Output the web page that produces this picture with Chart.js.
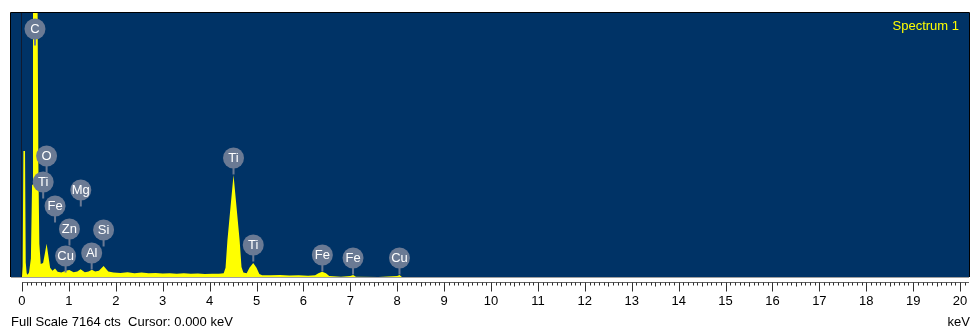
<!DOCTYPE html>
<html>
<head>
<meta charset="utf-8">
<title>Spectrum 1</title>
<script src="https://cdn.jsdelivr.net/npm/chart.js@4.4.1/dist/chart.umd.min.js"></script>
<style>
  html, body { margin: 0; padding: 0; background: #ffffff; }
  #wrap { width: 971px; height: 331px; position: relative; }
</style>
</head>
<body>
<div id="wrap"><canvas id="eds" width="971" height="331"></canvas></div>
<script>
// EDS spectrum: energy (keV) and counts per channel
const energyKeV = [
  0.00, 0.015, 0.03, 0.065, 0.08, 0.10, 0.12, 0.15, 0.19, 0.215, 0.235, 0.33, 0.35, 0.37,
  0.40, 0.45, 0.49, 0.525, 0.56, 0.60, 0.65, 0.705, 0.76, 0.84, 0.93, 1.01, 1.10,
  1.18, 1.25, 1.34, 1.42, 1.49, 1.56, 1.64, 1.74, 1.84, 1.95, 2.10, 2.25, 2.40,
  2.55, 2.70, 2.85, 3.00, 3.15, 3.30, 3.45, 3.60, 3.75, 3.90, 4.05, 4.20, 4.30,
  4.34, 4.38, 4.446, 4.51, 4.574, 4.64, 4.68, 4.72, 4.79, 4.85, 4.93, 5.00, 5.06,
  5.12, 5.30, 5.50, 5.70, 5.90, 6.10, 6.25, 6.32, 6.40, 6.48, 6.55, 6.80, 7.00, 7.06,
  7.12, 7.60, 8.00, 8.05, 8.10, 9.00, 12.00, 20.00
];
const counts = [
  0, 300, 3420, 3420, 400, 100, 60, 120, 500, 2500, 8000, 8000, 3000, 900,
  350, 380, 650, 900, 600, 250, 170, 230, 140, 120, 170, 190, 130,
  150, 210, 130, 150, 200, 150, 170, 300, 150, 120, 110, 130, 105,
  120, 100, 110, 95, 105, 90, 100, 85, 95, 80, 90, 85, 100,
  250, 1000, 1900, 2770, 1900, 1000, 270, 120, 100, 250, 380, 250, 80,
  50, 45, 55, 40, 50, 35, 50, 100, 145, 100, 30, 10, 30, 55,
  10, 0, 25, 55, 0, 0, 0, 0
];

// Element line markers: symbol, line energy (keV), counts level of the marker
const peakElements = ['C', 'O', 'Ti', 'Fe', 'Mg', 'Zn', 'Si', 'Cu', 'Al', 'Ti', 'Ti', 'Fe', 'Fe', 'Cu'];
const peakEnergies = [0.277, 0.525, 0.452, 0.705, 1.254, 1.012, 1.740, 0.930, 1.486, 4.510, 4.931, 6.404, 7.058, 8.048];
const markerCounts = [6730, 3284, 2578, 1927, 2361, 1303, 1276, 570, 651, 3230, 868, 597, 516, 516];

// Axis
const xTickValues = [0, 1, 2, 3, 4, 5, 6, 7, 8, 9, 10, 11, 12, 13, 14, 15, 16, 17, 18, 19, 20];
const fullScaleCounts = 7164;
const cursorKeV = 0.000;
const spectrumName = 'Spectrum 1';

const NAVY = '#003366';
const YELLOW = '#ffff00';
const BADGE = '#6a7a94';
const FONT = '"Liberation Sans", Arial, sans-serif';

const points = energyKeV.map((e, i) => ({ x: e, y: counts[i] }));

const edsPlugin = {
  id: 'edsDecor',
  beforeDraw(chart) {
    const { ctx, chartArea: a } = chart;
    ctx.save();
    ctx.fillStyle = '#ffffff';
    ctx.fillRect(0, 0, chart.width, chart.height);
    ctx.fillStyle = NAVY;
    ctx.fillRect(a.left, a.top, a.right - a.left, a.bottom - a.top);
    ctx.restore();
  },
  beforeDatasetsDraw(chart) {
    const { ctx, chartArea: a, scales } = chart;
    const cx = Math.round(scales.x.getPixelForValue(cursorKeV)) - 0.5;
    ctx.save();
    ctx.strokeStyle = '#101a30';
    ctx.lineWidth = 1;
    ctx.beginPath();
    ctx.moveTo(cx, a.top);
    ctx.lineTo(cx, a.bottom);
    ctx.stroke();
    ctx.restore();
  },
  afterDatasetsDraw(chart) {
    const { ctx, chartArea: a, scales } = chart;
    const xs = scales.x, ys = scales.y;
    ctx.save();

    // frame
    ctx.strokeStyle = '#000000';
    ctx.lineWidth = 1;
    ctx.beginPath();
    ctx.moveTo(a.left - 0.5, a.bottom);
    ctx.lineTo(a.left - 0.5, a.top - 0.5);
    ctx.lineTo(a.right + 0.5, a.top - 0.5);
    ctx.lineTo(a.right + 0.5, a.bottom);
    ctx.stroke();
    ctx.strokeStyle = '#a0a0a0';
    ctx.beginPath();
    ctx.moveTo(a.left, a.bottom + 0.5);
    ctx.lineTo(a.right, a.bottom + 0.5);
    ctx.stroke();

    // element markers
    const R = 10.5;
    ctx.font = '13px ' + FONT;
    ctx.textAlign = 'center';
    ctx.textBaseline = 'middle';
    peakElements.forEach((el, i) => {
      const px = xs.getPixelForValue(peakEnergies[i]);
      const py = ys.getPixelForValue(markerCounts[i]);
      ctx.strokeStyle = BADGE;
      ctx.lineWidth = 2;
      ctx.beginPath();
      ctx.moveTo(px, py);
      ctx.lineTo(px, py + R + 6);
      ctx.stroke();
      ctx.fillStyle = BADGE;
      ctx.beginPath();
      ctx.arc(px, py, R, 0, Math.PI * 2);
      ctx.fill();
      ctx.fillStyle = '#ffffff';
      ctx.fillText(el, px, py + 0.5);
    });

    // spectrum name
    ctx.fillStyle = YELLOW;
    ctx.font = '13px ' + FONT;
    ctx.textAlign = 'right';
    ctx.textBaseline = 'middle';
    ctx.fillText(spectrumName, a.right - 10, a.top + 13);

    // energy ruler
    const rulerY = a.bottom + 5.5;
    ctx.strokeStyle = '#606060';
    ctx.lineWidth = 1;
    ctx.beginPath();
    ctx.moveTo(xs.getPixelForValue(0), rulerY);
    ctx.lineTo(a.right, rulerY);
    ctx.stroke();
    ctx.strokeStyle = '#303030';
    ctx.beginPath();
    for (let k = 0; k * 0.1 <= xs.max + 1e-9; k++) {
      const x = Math.round(xs.getPixelForValue(k * 0.1)) + 0.5;
      const len = k % 10 === 0 ? 9 : (k % 5 === 0 ? 4 : 3);
      ctx.moveTo(x, rulerY);
      ctx.lineTo(x, rulerY + len);
    }
    ctx.stroke();

    // status line
    ctx.fillStyle = '#000000';
    ctx.font = '13px ' + FONT;
    ctx.textBaseline = 'middle';
    ctx.textAlign = 'left';
    ctx.fillText('Full Scale ' + fullScaleCounts + ' cts  Cursor: ' + cursorKeV.toFixed(3) + ' keV', 11, 322);
    ctx.textAlign = 'right';
    ctx.fillText('keV', chart.width - 1, 322);
    ctx.restore();
  }
};

new Chart(document.getElementById('eds'), {
  type: 'line',
  data: {
    datasets: [{
      data: points,
      borderColor: YELLOW,
      backgroundColor: YELLOW,
      borderWidth: 0,
      pointRadius: 0,
      tension: 0,
      fill: 'origin'
    }]
  },
  options: {
    responsive: false,
    animation: false,
    events: [],
    layout: { padding: { left: 11, top: 13, right: 2, bottom: 0 } },
    plugins: { legend: { display: false }, tooltip: { enabled: false } },
    scales: {
      x: {
        type: 'linear',
        min: -0.234,
        max: 20.19,
        grid: { display: false, drawTicks: false },
        border: { display: false },
        afterBuildTicks: s => { s.ticks = xTickValues.map(v => ({ value: v })); },
        afterFit: s => { s.height = 54; s.paddingLeft = 0; s.paddingRight = 0; },
        ticks: {
          autoSkip: false,
          maxRotation: 0,
          padding: 17,
          color: '#000000',
          font: { family: FONT, size: 13 },
          callback: v => String(v)
        }
      },
      y: {
        display: false,
        min: 0,
        max: fullScaleCounts
      }
    }
  },
  plugins: [edsPlugin]
});
</script>
</body>
</html>
